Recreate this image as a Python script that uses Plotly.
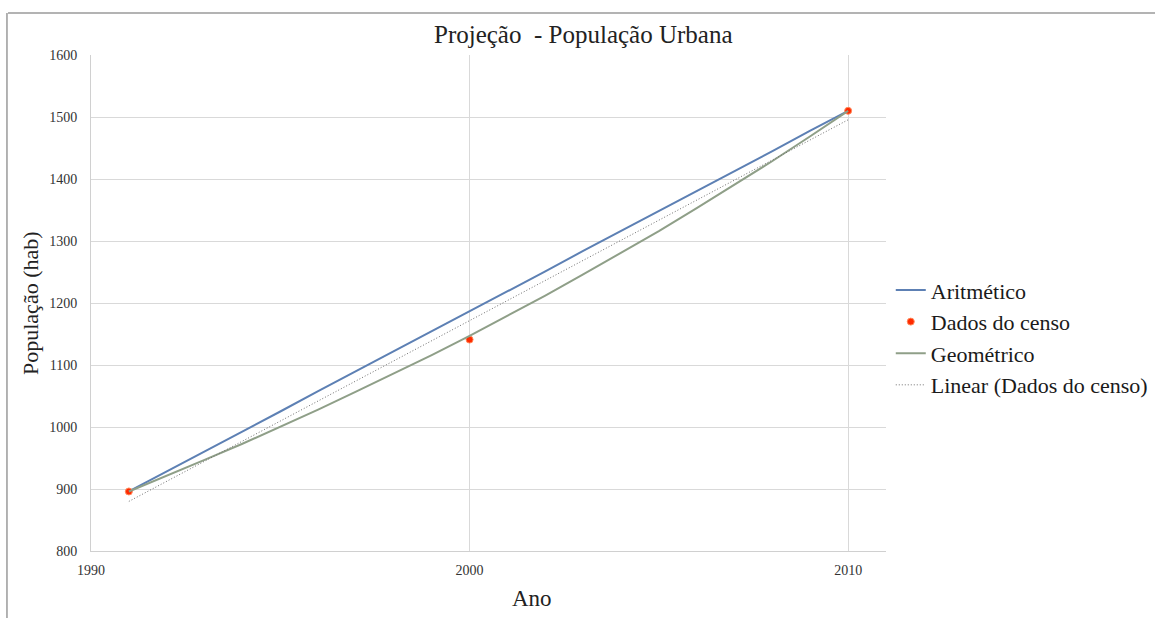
import plotly.graph_objects as go

# Census years and observed urban population
anos_censo = [1991, 2000, 2010]
pop_censo = [896, 1141, 1510]

# Yearly projections 1991-2010
anos = list(range(1991, 2011))
pop_aritmetico = [896, 928, 961, 993, 1025, 1058, 1090, 1122, 1155, 1187,
                  1219, 1251, 1284, 1316, 1348, 1381, 1413, 1445, 1478, 1510]
pop_geometrico = [896, 921, 947, 973, 1000, 1028, 1057, 1086, 1116, 1147,
                  1179, 1212, 1246, 1281, 1316, 1353, 1391, 1429, 1469, 1510]

# Linear trendline of the census data (end points)
anos_tendencia = [1991, 2010]
pop_tendencia = [880, 1495.5]

serif = "Liberation Serif, Times New Roman, serif"

fig = go.Figure()
fig.add_trace(go.Scatter(
    x=anos, y=pop_aritmetico, mode="lines", name="Aritmético",
    line=dict(color="#5d80b4", width=2), legendgroup="a"))
fig.add_trace(go.Scatter(
    x=anos_censo, y=pop_censo, mode="markers", name="Dados do censo",
    marker=dict(color="#ff2a00", size=7, line=dict(color="#ff8a5c", width=1)),
    legendgroup="b"))
fig.add_trace(go.Scatter(
    x=anos, y=pop_geometrico, mode="lines", name="Geométrico",
    line=dict(color="#8f9f88", width=2), legendgroup="c"))
fig.add_trace(go.Scatter(
    x=anos_tendencia, y=pop_tendencia, mode="lines",
    name="Linear (Dados do censo)",
    line=dict(color="#6f6f6f", width=1, dash="1px,2px"), legendgroup="d"))

fig.update_layout(
    width=1155, height=618,
    margin=dict(l=91, r=269, t=55, b=67, autoexpand=False),
    paper_bgcolor="white", plot_bgcolor="white",
    font=dict(family=serif, color="#222222"),
    showlegend=True,
    legend=dict(x=1.006, y=0.43, xanchor="left", yanchor="middle",
                font=dict(family=serif, size=22, color="#1a1a1a"),
                tracegroupgap=0, itemwidth=30, bgcolor="rgba(0,0,0,0)"),
    xaxis=dict(range=[1990, 2011], dtick=10, tick0=1990,
               showgrid=True, gridcolor="#d9d9d9", gridwidth=1,
               showline=True, linecolor="#d0d0d0", linewidth=1,
               ticks="", zeroline=False, ticklabelstandoff=6,
               tickfont=dict(family=serif, size=14, color="#333333")),
    yaxis=dict(range=[800, 1600], dtick=100, tick0=800,
               showgrid=True, gridcolor="#d9d9d9", gridwidth=1,
               showline=True, linecolor="#d0d0d0", linewidth=1,
               ticks="", zeroline=False, ticklabelstandoff=10,
               tickfont=dict(family=serif, size=14, color="#333333")),
    annotations=[
        dict(text="Projeção  - População Urbana", xref="paper", yref="paper",
             x=0.62, y=1.0, yshift=5, xanchor="center", yanchor="bottom",
             showarrow=False, font=dict(family=serif, size=25, color="#222222")),
        dict(text="Ano", xref="paper", yref="paper",
             x=0.555, y=0, yshift=-33, xanchor="center", yanchor="top",
             showarrow=False, font=dict(family=serif, size=23, color="#222222")),
        dict(text="População (hab)", xref="paper", yref="paper",
             x=0, xshift=-61, y=0.5, xanchor="center", yanchor="middle",
             textangle=-90, showarrow=False,
             font=dict(family=serif, size=22, color="#222222")),
    ],
    shapes=[
        # chart frame (top and left edges)
        dict(type="line", xref="paper", yref="paper", x0=-0.1044, x1=1.4,
             y0=1.0847, y1=1.0847, line=dict(color="#9a9a9a", width=1.5)),
        dict(type="line", xref="paper", yref="paper", x0=-0.1057, x1=-0.1057,
             y0=1.0847, y1=-0.2, line=dict(color="#9a9a9a", width=1.5)),
    ],
)

fig.write_html("out.html")
